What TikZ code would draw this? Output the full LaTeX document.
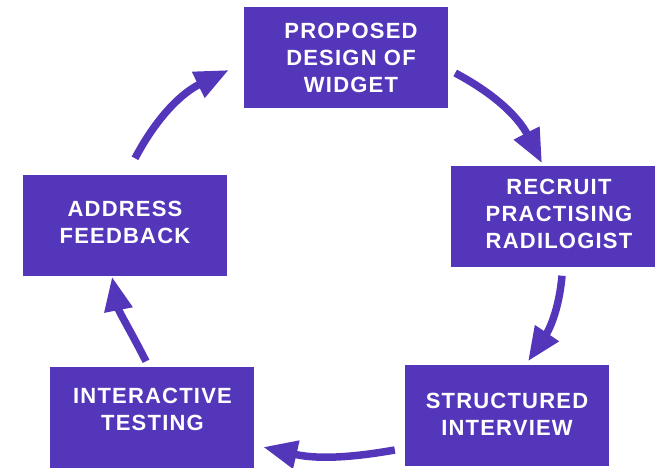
\documentclass[tikz,border=0pt]{standalone}
\usepackage{fontspec}
\usepackage{xcolor}
\usepackage{tikz}
\usetikzlibrary{arrows.meta}
\newfontfamily\stepfont{Liberation Sans}[LetterSpace=5.5]
\definecolor{boxpurple}{RGB}{84,54,186}
\tikzstyle{arrow} = [line width=7.5pt,boxpurple,-{Triangle[length=34pt,width=27pt]}]
\tikzstyle{stepbox} = [fill=boxpurple,minimum width=204pt,minimum height=101pt,inner sep=0pt]
\tikzstyle{steptext} = [text=white,align=center,font=\stepfont\bfseries\fontsize{22}{27}\selectfont]

\begin{document}
\begin{tikzpicture}[x=1pt,y=1pt]
				\useasboundingbox (0,0) rectangle (655,467);

				% Boxes:
				% Plain filled rectangles, the text goes on top as its own node
				\node [stepbox] (design) at (346,409.5) {};
				\node [stepbox] (recruit) at (553,251) {};
				\node [stepbox] (interview) at (507,52) {};
				\node [stepbox] (testing) at (152,50) {};
				\node [stepbox] (feedback) at (125,242) {};

				% Box labels:
				\node [steptext] (designlbl) at (351,409.5) {PROPOSED\\DESIGN OF\\WIDGET};
				\node [steptext] (recruitlbl) at (559,253) {RECRUIT\\PRACTISING\\RADILOGIST};
				\node [steptext] (interviewlbl) at (507,53) {STRUCTURED\\INTERVIEW};
				\node [steptext] (testinglbl) at (152.5,57.5) {INTERACTIVE\\TESTING};
				\node [steptext] (feedbacklbl) at (125,244.5) {ADDRESS\\FEEDBACK};

				% Arrows:
				% Bent with out/in so the cycle goes round clockwise
				\draw[arrow] ([xshift=7pt,yshift=-15.5pt]design.east) to[out=-28,in=117] ([xshift=-11pt,yshift=2pt]recruit.north);
				\draw[arrow] ([xshift=9pt,yshift=-9pt]recruit.south) to[out=-95,in=56] ([xshift=21pt,yshift=3pt]interview.north);
				\draw[arrow] ([xshift=-10pt,yshift=-35pt]interview.west) to[out=190,in=-13] ([xshift=9pt,yshift=-30pt]testing.east);
				\draw[arrow] ([xshift=-6pt,yshift=5pt]testing.north) to[out=117,in=-79] ([xshift=-13pt,yshift=-1pt]feedback.south);
				\draw[arrow] ([xshift=10pt,yshift=16pt]feedback.north) to[out=62,in=-154] ([xshift=-15pt,yshift=-12.5pt]design.west);
\end{tikzpicture}
\end{document}
